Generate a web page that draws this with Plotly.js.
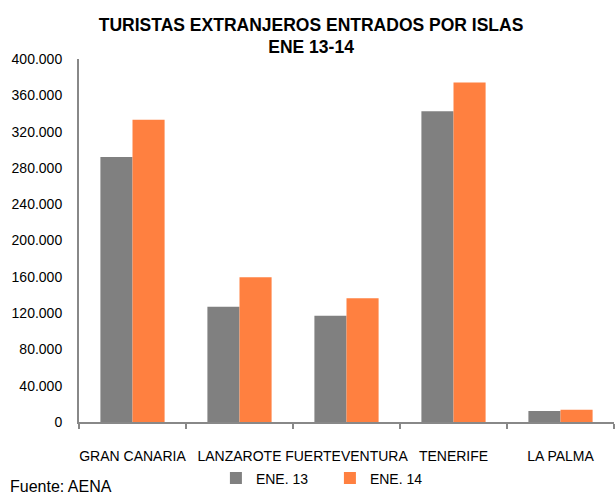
<!DOCTYPE html>
<html><head><meta charset="utf-8">
<script src="https://cdn.plot.ly/plotly-3.0.1.min.js"></script>
<style>body{margin:0;padding:0;background:#fff}#chart{width:616px;height:495px}</style>
</head><body><div id="chart"></div>
<script>
const islands = ["GRAN CANARIA", "LANZAROTE", "FUERTEVENTURA", "TENERIFE", "LA PALMA"];
const ene13 = [292000, 127000, 117000, 342500, 12000];
const ene14 = [333000, 159500, 136500, 374000, 13500];
const seriesNames = ["ENE. 13", "ENE. 14"];
const yTicks = [0, 40000, 80000, 120000, 160000, 200000, 240000, 280000, 320000, 360000, 400000];

const font = "Liberation Sans, Arial, sans-serif";
const data = [
  {type: "bar", x: islands, y: ene13, name: seriesNames[0], marker: {color: "#808080"}, hoverinfo: "y"},
  {type: "bar", x: islands, y: ene14, name: seriesNames[1], marker: {color: "#FF8040"}, hoverinfo: "y"}
];
const layout = {
  width: 616, height: 495,
  margin: {l: 79, r: 2, t: 59, b: 73},
  paper_bgcolor: "#fff", plot_bgcolor: "#fff",
  separators: ",.",
  font: {family: font, size: 14, color: "#000"},
  title: {text: "<b>TURISTAS EXTRANJEROS ENTRADOS POR ISLAS<br>ENE 13-14</b>", x: 0.505, xanchor: "center", yref: "container", y: 0.938, yanchor: "middle", font: {family: font, size: 17.5, color: "#000"}},
  barmode: "group", bargap: 0.4, bargroupgap: 0,
  xaxis: {automargin: false, showline: true, linecolor: "#888", linewidth: 2, ticks: "outside", tickson: "boundaries", ticklen: 5, tickcolor: "#888", tickwidth: 2, tickangle: 0, ticklabelstandoff: 20, tickfont: {size: 14}, showgrid: false, zeroline: false, fixedrange: true},
  yaxis: {automargin: false, range: [0, 400000], tickvals: yTicks, tickformat: ",d", showline: true, linecolor: "#888", linewidth: 2, ticks: "", showgrid: false, zeroline: false, ticklabelstandoff: 12, tickfont: {size: 14}, fixedrange: true},
  legend: {orientation: "h", x: 0.469, xanchor: "center", yref: "container", y: 0.0333, yanchor: "middle", font: {size: 14}, itemwidth: 30, entrywidth: 69, entrywidthmode: "pixels", traceorder: "normal"},
  annotations: [{text: "Fuente: AENA", xref: "paper", yref: "paper", x: -0.132, y: -0.179, xanchor: "left", yanchor: "middle", showarrow: false, font: {size: 16}}]
};
Plotly.newPlot("chart", data, layout, {displayModeBar: false, staticPlot: true});
</script></body></html>
